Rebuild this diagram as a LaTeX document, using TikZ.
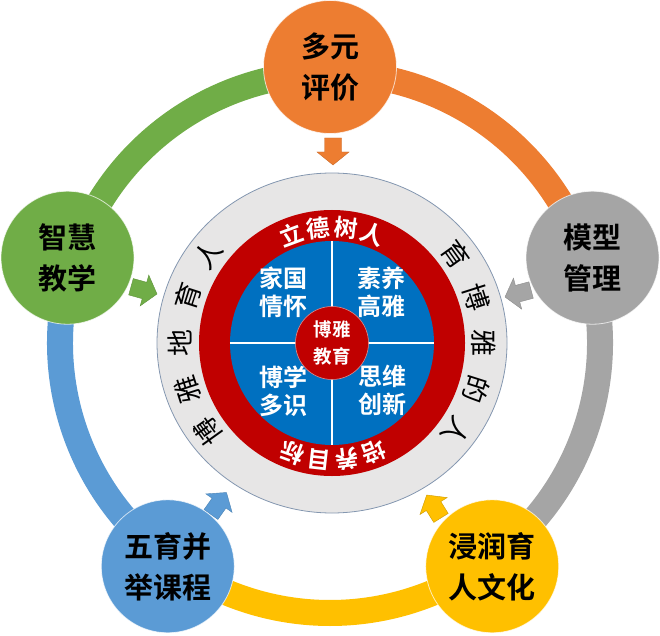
\documentclass[tikz,border=0pt]{standalone}
\usepackage{fontspec}
\setmainfont{Noto Sans CJK SC}[BoldFont={Noto Sans CJK SC Bold}]
\usetikzlibrary{shapes.geometric}
\definecolor{cOrange}{HTML}{ED7D31}
\definecolor{cGreen}{HTML}{70AD47}
\definecolor{cGray}{HTML}{A5A5A5}
\definecolor{cBlue}{HTML}{5B9BD5}
\definecolor{cGold}{HTML}{FFC000}
\definecolor{cRed}{HTML}{C00000}
\definecolor{cDeep}{HTML}{0070C0}
\definecolor{cRing}{HTML}{E7E6E6}
\definecolor{cEdge}{HTML}{8497B0}
\begin{document}
\begin{tikzpicture}[x=1pt,y=1pt,
  cyc/.style={circle, minimum size=133pt, inner sep=0pt, draw=white, draw opacity=.7, line width=.8pt,
    align=center, text=black, font=\bfseries\fontsize{29}{41}\selectfont},
  band/.style={line width=26pt},
  quad/.style={align=center, text=white, inner sep=0pt, font=\bfseries\fontsize{24}{28}\selectfont},
  redtxt/.style={text=white, inner sep=0pt, font=\bfseries\fontsize{23.5}{23.5}\selectfont},
  graytxt/.style={text=black, inner sep=0pt, font=\fontsize{27}{27}\selectfont},
  barrow/.pic={\path[pic actions] (0,0) -- (-13,16) -- (-13,8.5) -- (-27,8.5) -- (-27,-8.5) -- (-13,-8.5) -- (-13,-16) -- cycle;}
]
\useasboundingbox (0,0) rectangle (660,635);
\coordinate (O) at (330,292);
\coordinate (C) at (332,292);

% connecting bands
\draw[band, cGreen]  ([shift={(162:270)}]O) arc[start angle=162, end angle=90, radius=270];
\draw[band, cOrange] ([shift={(90:270)}]O)  arc[start angle=90, end angle=18, radius=270];
\draw[band, cGray]   ([shift={(18:270)}]O)  arc[start angle=18, end angle=-54, radius=270];
\draw[band, cGold]   ([shift={(-54:270)}]O) arc[start angle=-54, end angle=-126, radius=270];
\draw[band, cBlue]   ([shift={(234:270)}]O) arc[start angle=234, end angle=162, radius=270];

% central rings
\node[ellipse, minimum width=350pt, minimum height=340pt, inner sep=0pt, fill=cRing, draw=cEdge, line width=.8pt] (ring) at (C) {};
\node[circle, minimum size=266pt, inner sep=0pt, fill=cRed] (redring) at (C) {};
\node[circle, minimum size=204pt, inner sep=0pt, fill=cDeep] (disc) at (C) {};
\draw[white, line width=1.5pt] (disc.west) -- (disc.east);
\draw[white, line width=1.5pt] (disc.north) -- (disc.south);
\node[circle, minimum size=73pt, inner sep=0pt, fill=cRed, draw={rgb,255:red,225;green,140;blue,140}, line width=.6pt,
  align=center, text=white, font=\bfseries\fontsize{18.5}{26.5}\selectfont] (core) at (C) {博雅\\教育};

% quadrant texts
\node[quad] (q1) at (283,342.5) {家国\\情怀};
\node[quad] (q2) at (381,342.5) {素养\\高雅};
\node[quad] (q3) at (283,244) {博学\\多识};
\node[quad] (q4) at (382,245) {思维\\创新};

% texts along the red ring
\foreach \ch/\a [count=\i] in {立/110.4,德/96.8,树/83.2,人/69.6}
  \node[redtxt, rotate=\a-90] (rt\i) at ([shift={(\a:116)}]C) {\ch};
\foreach \ch/\a [count=\i] in {培/-68.9,养/-82.6,目/-96.3,标/-110}
  \node[redtxt, rotate=\a-90] (rb\i) at ([shift={(\a:117)}]C) {\ch};

% texts along the gray ring
\foreach \ch/\a [count=\i] in {博/215.6,雅/197.8,地/180,育/162.2,人/144.4}
  \node[graytxt, rotate=\a-90] (gl\i) at ([shift={(\a:152)}]C) {\ch};
\foreach \ch/\a [count=\i] in {育/35.4,博/17.7,雅/0,的/-17.7,人/-35.4}
  \node[graytxt, rotate=\a-90] (gr\i) at ([shift={(\a:152)}]C) {\ch};

% block arrows
\pic[rotate=-90, fill=cOrange, draw=cOrange!85!black, line width=.4pt] at (333,470) {barrow};
\pic[rotate=-15.6, fill=cGreen, draw=cGreen!85!black, line width=.4pt] at (157,341) {barrow};
\pic[rotate=194.9, fill=cGray, draw=cGray!85!black, line width=.4pt] at (505,338) {barrow};
\pic[rotate=54.8, fill=cBlue, draw=cBlue!85!black, line width=.4pt] at (226.5,142.5) {barrow};
\pic[rotate=121.9, fill=cGold, draw=cGold!80!black, line width=.4pt] at (426.7,140) {barrow};

% cycle nodes
\node[cyc, fill=cOrange] (n1) at ([shift={(90:276)}]O) {多元\\评价};
\node[cyc, fill=cGreen]  (n2) at ([shift={(162:276)}]O) {智慧\\教学};
\node[cyc, fill=cGray]   (n3) at ([shift={(18:276)}]O) {模型\\管理};
\node[cyc, fill=cBlue]   (n4) at ([shift={(234:276)}]O) {五育并\\举课程};
\node[cyc, fill=cGold]   (n5) at ([shift={(306:276)}]O) {浸润育\\人文化};
\end{tikzpicture}
\end{document}
